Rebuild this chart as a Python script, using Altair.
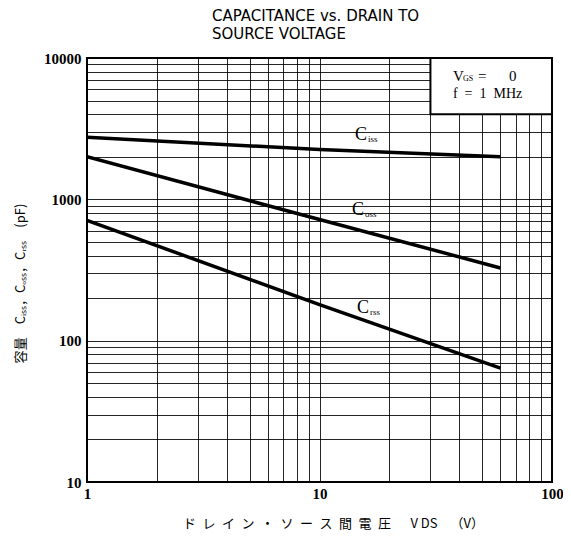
import altair as alt
import pandas as pd

# ---- data ----
vds = [1, 10, 60]
ciss = [2750, 2250, 2000]
coss = [2000, 720, 327]
crss = [710, 180, 64]

series_names = ["Ciss", "Coss", "Crss"]
label_main = ["C", "C", "C"]
label_sub = ["iss", "oss", "rss"]
label_vds = [14.2, 13.8, 14.5]
label_cap = [2850, 840, 170]

x_ticks = [1, 2, 3, 4, 5, 6, 7, 8, 9, 10, 20, 30, 40, 50, 60, 70, 80, 90, 100]
y_ticks = [10, 20, 30, 40, 50, 60, 70, 80, 90,
           100, 200, 300, 400, 500, 600, 700, 800, 900,
           1000, 2000, 3000, 4000, 5000, 6000, 7000, 8000, 9000, 10000]

box_vds = [30, 100]
box_cap = [4000, 10000]
cond_vds = [37.5, 37.5]
cond_cap = [7460, 5560]

SP = "\u2002"
NB = "\u00a0"
x_title = SP.join(list("ドレイン・ソース間電圧")) + SP * 3 + "V" + NB + "DS" + SP * 2 + "（V）"

# ---- tables ----
rows = []
for name, vals in zip(series_names, [ciss, coss, crss]):
    for v, c in zip(vds, vals):
        rows.append({"series": name, "vds": v, "cap": c})
lines_df = pd.DataFrame(rows)
labels_df = pd.DataFrame({"vds": label_vds, "cap": label_cap,
                          "main": label_main, "sub": label_sub})
box_df = pd.DataFrame({"vds": [box_vds[0]], "vds2": [box_vds[1]],
                       "cap": [box_cap[0]], "cap2": [box_cap[1]]})
cond1 = pd.DataFrame({"vds": [cond_vds[0]], "cap": [cond_cap[0]]})
cond2 = pd.DataFrame({"vds": [cond_vds[1]], "cap": [cond_cap[1]]})

xscale = alt.Scale(type="log", domain=[1, 100], nice=False)
yscale = alt.Scale(type="log", domain=[10, 10000], nice=False)

x_enc = alt.X("vds:Q", scale=xscale,
              axis=alt.Axis(values=x_ticks, format="d",
                            labelExpr="(datum.value == 1 || datum.value == 10 || datum.value == 100) ? datum.label : ''",
                            title=x_title,
                            titleX=246, titleY=41, titleAlign="center",
                            titleBaseline="middle", titleAngle=0,
                            labelPadding=4))
y_enc = alt.Y("cap:Q", scale=yscale,
              axis=alt.Axis(values=y_ticks, format="d",
                            labelExpr="(datum.value == 10 || datum.value == 100 || datum.value == 1000 || datum.value == 10000) ? datum.label : ''",
                            title="容量" + SP * 2 + "Cᵢₛₛ，Cₒₛₛ，Cᵣₛₛ" + SP * 2 + "(pF)",
                            titleX=-67, titleY=225, titleAlign="center",
                            titleBaseline="middle", titleAngle=270,
                            labelPadding=6))

lines = alt.Chart(lines_df).mark_line(color="black", strokeWidth=3.5, clip=True).encode(
    x=x_enc, y=y_enc, detail="series:N")

box = alt.Chart(box_df).mark_rect(fill="white", stroke="black", strokeWidth=2).encode(
    x=x_enc, x2="vds2:Q", y=y_enc, y2="cap2:Q")

lab_main = alt.Chart(labels_df).mark_text(
    align="left", baseline="middle", font="Liberation Serif", fontSize=18, color="black"
).encode(x=x_enc, y=y_enc, text="main:N")
lab_sub = alt.Chart(labels_df).mark_text(
    align="left", baseline="middle", font="Liberation Serif", fontSize=9, color="black", dx=13, dy=4
).encode(x=x_enc, y=y_enc, text="sub:N")

v_main = alt.Chart(cond1).mark_text(
    align="left", baseline="middle", font="Liberation Serif", fontSize=15, color="black"
).encode(x=x_enc, y=y_enc, text=alt.value("V"))
v_sub = alt.Chart(cond1).mark_text(
    align="left", baseline="middle", font="Liberation Serif", fontSize=8, color="black", dx=10, dy=3
).encode(x=x_enc, y=y_enc, text=alt.value("GS"))
v_rest = alt.Chart(cond1).mark_text(
    align="left", baseline="middle", font="Liberation Serif", fontSize=15, color="black", dx=25
).encode(x=x_enc, y=y_enc, text=alt.value("=" + SP * 3 + "0"))
f_txt = alt.Chart(cond2).mark_text(
    align="left", baseline="middle", font="Liberation Serif", fontSize=14, color="black"
).encode(x=x_enc, y=y_enc, text=alt.value("f" + SP + "=" + SP + "1" + SP + "MHz"))

chart = alt.layer(lines, box, lab_main, lab_sub, v_main, v_sub, v_rest, f_txt).properties(
    width=465, height=424,
    autosize=alt.AutoSizeParams(type="none"),
    padding={"left": 79, "top": 50, "right": 11, "bottom": 51},
    title=alt.TitleParams(["CAPACITANCE vs. DRAIN TO", "SOURCE VOLTAGE"],
                          anchor="start", frame="group", dx=125, dy=11, offset=20,
                          font="DejaVu Sans", fontSize=15, fontWeight="normal",
                          lineHeight=18, color="black"),
).configure_axis(
    labelFont="Liberation Serif", labelFontSize=15, labelFontWeight="bold",
    labelColor="black", labelOverlap=False, labelFlush=False,
    domain=False, ticks=False,
    grid=True, gridColor="black", gridWidth=1, gridOpacity=0.85,
    titleFont="Noto Sans CJK JP", titleFontSize=13, titleFontWeight="normal",
    titleColor="black",
).configure_view(stroke="black", strokeWidth=2)

chart.save("out.html", embed_options={"renderer": "svg", "actions": False})
